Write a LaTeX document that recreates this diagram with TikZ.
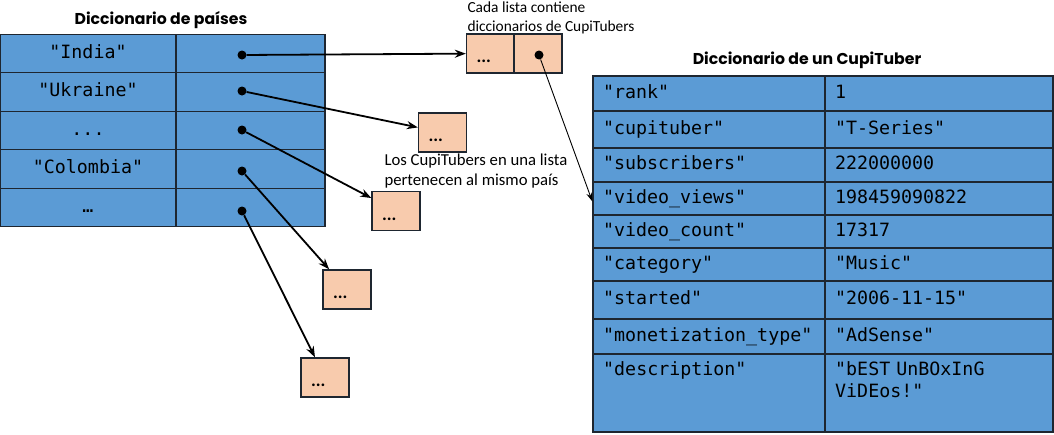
\documentclass[tikz,border=0pt]{standalone}
\usepackage{fontspec}
\usetikzlibrary{arrows.meta}
\newfontfamily\monofont{DejaVu Sans Mono}[WordSpace={1,0,0}]
\newfontfamily\headfont{Poppins}
\newfontfamily\notefont{Carlito}
\definecolor{cellblue}{HTML}{5B9BD5}
\definecolor{listpeach}{HTML}{F8CBAD}
\definecolor{cellline}{HTML}{1E2630}
\tikzset{%
    cell/.style={rectangle, draw=cellline, fill=cellblue, line width=1.3pt,
    	inner sep=0pt, text height=13pt, text depth=4pt,
    	font=\monofont\fontsize{18.3}{22}\selectfont},
    lkey/.style={cell, minimum width=176pt, minimum height=38.6pt},
    lval/.style={cell, minimum width=149pt, minimum height=38.6pt},
    rkey/.style={cell, minimum width=232pt, text width=212pt, align=left},
    rval/.style={cell, minimum width=228pt, text width=208pt, align=left},
    rtext/.style={inner sep=0pt, anchor=north west, align=left,
    	font=\monofont\fontsize{18.3}{22}\selectfont},
    listbox/.style={rectangle, draw=cellline, fill=listpeach, line width=1.3pt,
    	inner sep=0pt, minimum width=48pt, minimum height=39pt, text width=28pt,
    	align=left, text height=18pt, text depth=0pt,
    	font=\notefont\bfseries\fontsize{18}{18}\selectfont},
    dot/.style={circle, fill, inner sep=0pt, minimum size=9pt},
    ptr/.style={line width=1.8pt, -{Stealth[length=11pt, width=8pt]}},
    thinptr/.style={line width=0.9pt, -{Stealth[length=9pt, width=6pt]}},
    title/.style={font=\headfont\bfseries\fontsize{15.7}{17}\selectfont},
    note/.style={anchor=west, align=left,
    	font=\notefont\fontsize{15.4}{19}\selectfont}
}

\begin{document}
\begin{tikzpicture}[x=1pt, y=-1pt]
  \useasboundingbox (0,0) rectangle (1054,434);

  % diccionario de paises
  \node (tpais) [title] at (161,20) {Diccionario de países};
  \node (kind) [lkey] at (88,53.5) {"India"};
  \node (kukr) [lkey] at (88,92) {"Ukraine"};
  \node (kdot) [lkey] at (88,130.5) {...};
  \node (kcol) [lkey] at (88,169) {"Colombia"};
  \node (kmas) [lkey] at (88,207.5) {…};
  \node (vind) [lval] at (250.5,53.5) {};
  \node (vukr) [lval] at (250.5,92) {};
  \node (vdot) [lval] at (250.5,130.5) {};
  \node (vcol) [lval] at (250.5,169) {};
  \node (vmas) [lval] at (250.5,207.5) {};

  \node (dind) [dot] at (242,55) {};
  \node (dukr) [dot] at (242,91) {};
  \node (ddot) [dot] at (242,130) {};
  \node (dcol) [dot] at (242,171) {};
  \node (dmas) [dot] at (242,211) {};

  % listas de cupitubers
  \node (lind) [listbox] at (490.5,53.5) {...};
  \node (lcup) [listbox] at (538,53.5) {};
  \node (dcup) [dot] at (539,55) {};
  \node (lukr) [listbox] at (442.5,132.5) {...};
  \node (ldot) [listbox] at (396,211) {...};
  \node (lcol) [listbox] at (347,289.5) {...};
  \node (lmas) [listbox] at (325,377.5) {...};

  \node (ncada) [note] at (464,18) {Cada lista contiene\\diccionarios de CupiTubers};
  \node (nlos) [note, font=\notefont\fontsize{16.7}{20}\selectfont]
    at (381,171) {Los CupiTubers en una lista\\pertenecen al mismo país};

  % diccionario de un cupituber
  \node (tcupi) [title] at (807,60) {Diccionario de un CupiTuber};
  \node (krank) [rkey, minimum height=35pt] at (709,93.5) {"rank"};
  \node (kname) [rkey, minimum height=37pt] at (709,129.5) {"cupituber"};
  \node (ksubs) [rkey, minimum height=34pt] at (709,165) {"subscribers"};
  \node (kview) [rkey, minimum height=33pt] at (709,198.5) {"video\_views"};
  \node (kvcnt) [rkey, minimum height=33pt] at (709,231.5) {"video\_count"};
  \node (kcatg) [rkey, minimum height=33pt] at (709,264.5) {"category"};
  \node (kstrt) [rkey, minimum height=38pt] at (709,300) {"started"};
  \node (kmony) [rkey, minimum height=35pt] at (709,336.5) {"monetization\_type"};
  \node (kdesc) [rkey, minimum height=78pt] at (709,393) {};
  \node (vrank) [rval, minimum height=35pt] at (939,93.5) {1};
  \node (vname) [rval, minimum height=37pt] at (939,129.5) {"T-Series"};
  \node (vsubs) [rval, minimum height=34pt] at (939,165) {222000000};
  \node (vview) [rval, minimum height=33pt] at (939,198.5) {198459090822};
  \node (vvcnt) [rval, minimum height=33pt] at (939,231.5) {17317};
  \node (vcatg) [rval, minimum height=33pt] at (939,264.5) {"Music"};
  \node (vstrt) [rval, minimum height=38pt] at (939,300) {"2006-11-15"};
  \node (vmony) [rval, minimum height=35pt] at (939,336.5) {"AdSense"};
  \node (vdesc) [rval, minimum height=78pt] at (939,393) {};
  \node (tdesc) [rtext] at (603,361) {"description"};
  \node (tbest) [rtext, text width=208pt] at (835,361) {"bEST UnBOxInG\\ViDEos!"};

  \draw (dind) edge [ptr] (lind);
  \draw (dukr) edge [ptr] (lukr);
  \draw (ddot) edge [ptr] (ldot);
  \draw (dcol) edge [ptr] (lcol);
  \draw (dmas) edge [ptr] (lmas);
  \draw (dcup) edge [thinptr] ([yshift=-3pt]kview.west);
\end{tikzpicture}
\end{document}
